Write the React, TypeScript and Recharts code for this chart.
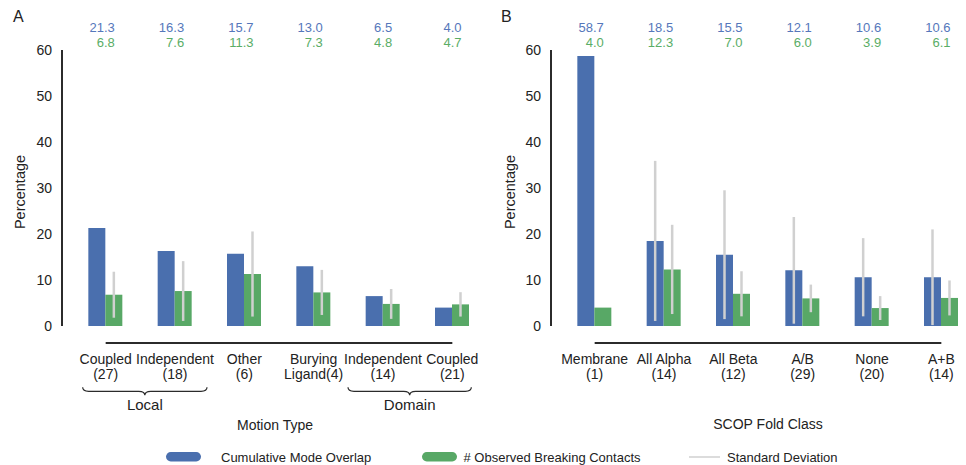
import React from 'react';
import { BarChart, Bar, XAxis, YAxis, ErrorBar, ReferenceLine, LabelList } from 'recharts';

// ---------- data ----------
const motionCategories = ['Coupled|(27)', 'Independent|(18)', 'Other|(6)', 'Burying|Ligand(4)', 'Independent|(14)', 'Coupled|(21)'];
const motionOverlap = [21.3, 16.3, 15.7, 13.0, 6.5, 4.0];
const motionContacts = [6.8, 7.6, 11.3, 7.3, 4.8, 4.7];
const motionOverlapSD: (number | null)[] = [null, null, null, null, null, null];
const motionContactsSD = [5.0, 6.5, 9.25, 4.9, 3.25, 2.65];

const foldCategories = ['Membrane|(1)', 'All Alpha|(14)', 'All Beta|(12)', 'A/B|(29)', 'None|(20)', 'A+B|(14)'];
const foldOverlap = [58.7, 18.5, 15.5, 12.1, 10.6, 10.6];
const foldContacts = [4.0, 12.3, 7.0, 6.0, 3.9, 6.1];
const foldOverlapSD: (number | null)[] = [null, 17.4, 14.0, 11.6, 8.5, 10.4];
const foldContactsSD: (number | null)[] = [null, 9.7, 4.9, 3.0, 2.6, 3.8];

const yTicks = [0, 10, 20, 30, 40, 50, 60];

const motionGroups = [
  { from: 'Coupled|(27)', to: 'Independent|(18)', label: 'Local', inL: 23, inR: 32 },
  { from: 'Independent|(14)', to: 'Coupled|(21)', label: 'Domain', inL: 35, inR: 19 },
];

// ---------- style ----------
const FONT = "'Liberation Sans', Arial, Helvetica, sans-serif";
const BLUE = '#4a6fae';
const GREEN = '#58a866';
const BLUE_T = '#5577bb';
const GREEN_T = '#5aad66';
const SD_GRAY = '#d0d0d0';
const DARK = '#2b2b2b';

const CatTick = (props: any) => {
  const { x, y, payload } = props;
  const [l1, l2] = String(payload.value).split('|');
  return (
    <text x={x} y={y} textAnchor="middle" fontSize={14} fill="#222" fontFamily={FONT}>
      <tspan x={x} dy={38}>{l1}</tspan>
      <tspan x={x} dy={15}>{l2}</tspan>
    </text>
  );
};

const makeBrace = (label: string, inL: number, inR: number) => (p: any) => {
  const x1 = p.x1 - inL;
  const x2 = p.x2 + inR;
  const y = p.y1;
  const mid = (x1 + x2) / 2;
  const d = `M${x1},${y - 4} Q${x1},${y} ${x1 + 6},${y} L${mid - 6},${y} Q${mid},${y} ${mid},${y + 4} Q${mid},${y} ${mid + 6},${y} L${x2 - 6},${y} Q${x2},${y} ${x2},${y - 4}`;
  return (
    <g>
      <path d={d} fill="none" stroke={DARK} strokeWidth={1.2} />
      <text x={mid} y={y + 19} textAnchor="middle" fontSize={15} fill="#222" fontFamily={FONT}>{label}</text>
    </g>
  );
};

const blueTop = (props: any) => {
  const { x, width, value } = props;
  return (
    <text x={x + width * 1.5 + 1} y={32} textAnchor="end" fontSize={13} fill={BLUE_T} fontFamily={FONT}>
      {Number(value).toFixed(1)}
    </text>
  );
};
const greenTop = (props: any) => {
  const { x, width, value } = props;
  return (
    <text x={x + width * 0.5 + 1} y={46.5} textAnchor="end" fontSize={13} fill={GREEN_T} fontFamily={FONT}>
      {Number(value).toFixed(1)}
    </text>
  );
};

type PanelProps = {
  categories: string[];
  overlap: number[];
  contacts: number[];
  overlapSD: (number | null)[];
  contactsSD: (number | null)[];
  groups: { from: string; to: string; label: string; inL: number; inR: number }[];
};

const Panel = ({ categories, overlap, contacts, overlapSD, contactsSD, groups }: PanelProps) => {
  const data = categories.map((c, i) => ({
    cat: c,
    overlap: overlap[i],
    contacts: contacts[i],
    overlapSD: overlapSD[i],
    contactsSD: contactsSD[i],
  }));
  const hasOverlapSD = overlapSD.some((v) => v != null);
  return (
    <BarChart
      width={495}
      height={465}
      data={data}
      margin={{ top: 50, right: 8, bottom: 109, left: 32 }}
      barCategoryGap="25%"
      barGap={0}
    >
      <XAxis
        dataKey="cat"
        type="category"
        height={30}
        axisLine={false}
        tickLine={false}
        tickSize={0}
        tickMargin={0}
        interval={0}
        padding={{ left: 9, right: 0 }}
        tick={<CatTick />}
      />
      <YAxis
        type="number"
        domain={[0, 60]}
        ticks={yTicks}
        interval={0}
        width={30}
        axisLine={{ stroke: DARK, strokeWidth: 2 }}
        tickLine={false}
        tickSize={8}
        tickMargin={2}
        tick={{ fontSize: 14, fill: '#222', fontFamily: FONT }}
      />
      <Bar dataKey="overlap" fill={BLUE} isAnimationActive={false}>
        {hasOverlapSD && (
          <ErrorBar dataKey="overlapSD" width={0} stroke={SD_GRAY} strokeWidth={2.5} direction="y" />
        )}
        <LabelList dataKey="overlap" content={blueTop} />
      </Bar>
      <Bar dataKey="contacts" fill={GREEN} isAnimationActive={false}>
        <ErrorBar dataKey="contactsSD" width={0} stroke={SD_GRAY} strokeWidth={2.5} direction="y" />
        <LabelList dataKey="contacts" content={greenTop} />
      </Bar>
      <ReferenceLine
        segment={[{ x: categories[0], y: -3.7 }, { x: categories[categories.length - 1], y: -3.7 }]}
        stroke={DARK}
        strokeWidth={2}
        ifOverflow="visible"
      />
      {groups.map((g) => (
        <ReferenceLine
          key={g.label}
          segment={[{ x: g.from, y: -14.2 }, { x: g.to, y: -14.2 }]}
          ifOverflow="visible"
          stroke={DARK}
          shape={makeBrace(g.label, g.inL, g.inR)}
        />
      ))}
    </BarChart>
  );
};

export default function App() {
  return (
    <div style={{ position: 'absolute', left: 0, top: 0, width: 966, height: 465, overflow: 'hidden', background: '#fff', fontFamily: FONT }}>
      <div style={{ position: 'absolute', left: 0, top: 0 }}>
        <Panel
          categories={motionCategories}
          overlap={motionOverlap}
          contacts={motionContacts}
          overlapSD={motionOverlapSD}
          contactsSD={motionContactsSD}
          groups={motionGroups}
        />
      </div>
      <div style={{ position: 'absolute', left: 489, top: 0 }}>
        <Panel
          categories={foldCategories}
          overlap={foldOverlap}
          contacts={foldContacts}
          overlapSD={foldOverlapSD}
          contactsSD={foldContactsSD}
          groups={[]}
        />
      </div>
      <svg width={966} height={465} style={{ position: 'absolute', left: 0, top: 0, pointerEvents: 'none' }}>
        <g fontFamily={FONT} fill="#222">
          <text x={13} y={22} fontSize={16}>A</text>
          <text x={501} y={22} fontSize={16}>B</text>
          <text transform="translate(25,192) rotate(-90)" textAnchor="middle" fontSize={14.5}>Percentage</text>
          <text transform="translate(515,192) rotate(-90)" textAnchor="middle" fontSize={14.5}>Percentage</text>
          <text x={275} y={430} textAnchor="middle" fontSize={14}>Motion Type</text>
          <text x={768} y={429} textAnchor="middle" fontSize={14}>SCOP Fold Class</text>
          <rect x={166} y={452} width={35} height={9.5} rx={4.75} fill={BLUE} />
          <text x={221} y={461.5} fontSize={13}>Cumulative Mode Overlap</text>
          <rect x={422} y={452} width={35} height={9.5} rx={4.75} fill={GREEN} />
          <text x={463.5} y={461.5} fontSize={13}>{'# Observed Breaking Contacts'}</text>
          <line x1={689} y1={457} x2={720} y2={457} stroke={SD_GRAY} strokeWidth={1.5} />
          <text x={727} y={462} fontSize={13}>Standard Deviation</text>
        </g>
      </svg>
    </div>
  );
}
